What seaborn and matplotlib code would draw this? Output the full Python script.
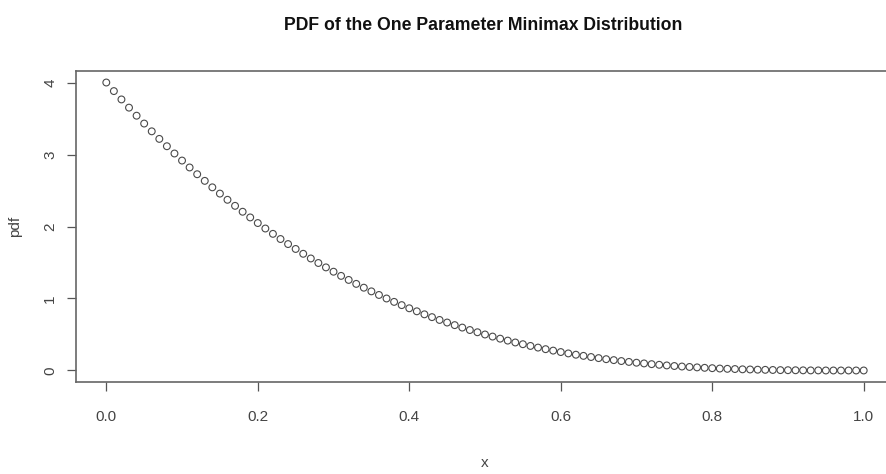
"""PDF of the one-parameter minimax distribution, redrawn as a scatter."""

import matplotlib

matplotlib.use("Agg")
import matplotlib.pyplot as plt
import pandas as pd
import seaborn as sns

# values
x_vals = [
    0.00, 0.01, 0.02, 0.03, 0.04, 0.05, 0.06, 0.07, 0.08, 0.09,
    0.10, 0.11, 0.12, 0.13, 0.14, 0.15, 0.16, 0.17, 0.18, 0.19,
    0.20, 0.21, 0.22, 0.23, 0.24, 0.25, 0.26, 0.27, 0.28, 0.29,
    0.30, 0.31, 0.32, 0.33, 0.34, 0.35, 0.36, 0.37, 0.38, 0.39,
    0.40, 0.41, 0.42, 0.43, 0.44, 0.45, 0.46, 0.47, 0.48, 0.49,
    0.50, 0.51, 0.52, 0.53, 0.54, 0.55, 0.56, 0.57, 0.58, 0.59,
    0.60, 0.61, 0.62, 0.63, 0.64, 0.65, 0.66, 0.67, 0.68, 0.69,
    0.70, 0.71, 0.72, 0.73, 0.74, 0.75, 0.76, 0.77, 0.78, 0.79,
    0.80, 0.81, 0.82, 0.83, 0.84, 0.85, 0.86, 0.87, 0.88, 0.89,
    0.90, 0.91, 0.92, 0.93, 0.94, 0.95, 0.96, 0.97, 0.98, 0.99,
    1.00,
]
pdf_vals = [
    4.000, 3.881, 3.765, 3.651, 3.539, 3.430, 3.322, 3.217, 3.115, 3.014,
    2.916, 2.820, 2.726, 2.634, 2.544, 2.457, 2.371, 2.287, 2.205, 2.126,
    2.048, 1.972, 1.898, 1.826, 1.756, 1.688, 1.621, 1.556, 1.493, 1.432,
    1.372, 1.314, 1.258, 1.203, 1.150, 1.099, 1.049, 1.000, 0.953, 0.908,
    0.864, 0.822, 0.780, 0.741, 0.702, 0.666, 0.630, 0.596, 0.562, 0.531,
    0.500, 0.471, 0.442, 0.415, 0.389, 0.365, 0.341, 0.318, 0.296, 0.276,
    0.256, 0.237, 0.219, 0.203, 0.187, 0.172, 0.157, 0.144, 0.131, 0.119,
    0.108, 0.098, 0.088, 0.079, 0.070, 0.062, 0.055, 0.049, 0.043, 0.037,
    0.032, 0.027, 0.023, 0.020, 0.016, 0.014, 0.011, 0.009, 0.007, 0.005,
    0.004, 0.003, 0.002, 0.001, 0.001, 0.000, 0.000, 0.000, 0.000, 0.000,
    0.000,
]
x_ticks = [0.0, 0.2, 0.4, 0.6, 0.8, 1.0]
x_ticklabels = ["0.0", "0.2", "0.4", "0.6", "0.8", "1.0"]
y_ticks = [0, 1, 2, 3, 4]
y_ticklabels = ["0", "1", "2", "3", "4"]

df = pd.DataFrame({"x": x_vals, "pdf": pdf_vals})

sns.set_style("ticks")
plt.rcParams["font.family"] = ["Liberation Sans", "DejaVu Sans"]

fig = plt.figure(figsize=(8.86, 4.74), dpi=100)
# axes box runs past the right edge, as in the cropped original
ax = fig.add_axes([76 / 886, 92 / 474, 818 / 886, 311 / 474])

sns.scatterplot(
    data=df, x="x", y="pdf", ax=ax,
    marker="o", s=24, facecolor="none", edgecolor="#4a4a4a", linewidth=0.8,
)

ax.set_xlim(-0.04, 1.04)
ax.set_ylim(-0.16, 4.16)
ax.set_xticks(x_ticks)
ax.set_xticklabels(x_ticklabels)
ax.set_yticks(y_ticks)
ax.set_yticklabels(y_ticklabels, rotation=90, va="center")
ax.tick_params(axis="both", length=6.5, width=0.9, color="#555555",
               labelsize=11, labelcolor="#444444")
ax.tick_params(axis="x", pad=14)
ax.tick_params(axis="y", pad=7)

for side in ["left", "bottom", "top"]:
    ax.spines[side].set_color("#666666")
    ax.spines[side].set_linewidth(1.2)
ax.spines["right"].set_visible(False)

ax.set_xlabel("x", fontsize=11, color="#444444", labelpad=23)
ax.set_ylabel("pdf", fontsize=11, color="#444444", labelpad=15)
fig.text(483 / 886, 1 - 25 / 474, "PDF of the One Parameter Minimax Distribution",
         ha="center", va="center", fontsize=12.7, fontweight="bold", color="#111111")

fig.savefig("out.png", dpi=100)
